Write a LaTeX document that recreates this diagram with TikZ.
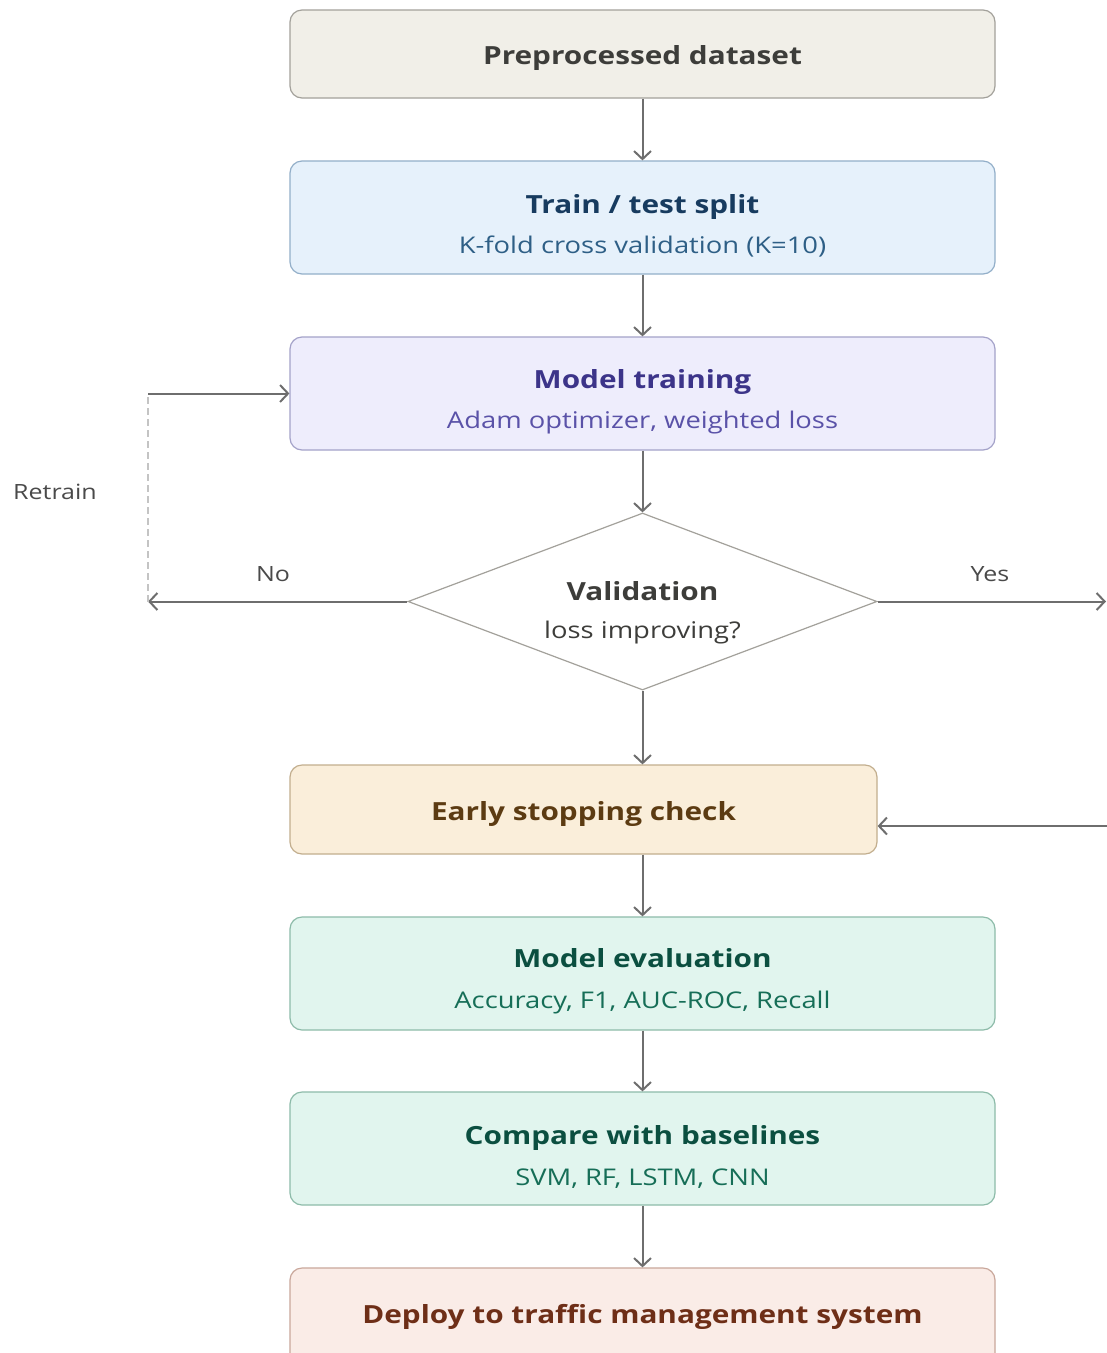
\documentclass[tikz,border=0pt]{standalone}
\usepackage{fontspec}
\setmainfont[FakeStretch=1.19]{Open Sans}
\usetikzlibrary{arrows.meta,shapes.geometric}

% palette
\definecolor{grayfill}{HTML}{F1EFE8}
\definecolor{graydraw}{HTML}{A3A19B}
\definecolor{graytext}{HTML}{3D3D3A}
\definecolor{bluefill}{HTML}{E6F1FB}
\definecolor{bluedraw}{HTML}{93AFC9}
\definecolor{bluetitle}{HTML}{173B5F}
\definecolor{bluesub}{HTML}{2E5F86}
\definecolor{purpfill}{HTML}{EEEDFC}
\definecolor{purpdraw}{HTML}{A4A2C9}
\definecolor{purptitle}{HTML}{3C3489}
\definecolor{purpsub}{HTML}{5A52A8}
\definecolor{ambfill}{HTML}{FAEEDA}
\definecolor{ambdraw}{HTML}{C2AE8E}
\definecolor{ambtext}{HTML}{5C3B12}
\definecolor{tealfill}{HTML}{E1F5EE}
\definecolor{tealdraw}{HTML}{8DBBA9}
\definecolor{tealtitle}{HTML}{0B4F40}
\definecolor{tealsub}{HTML}{166E57}
\definecolor{corfill}{HTML}{FAECE7}
\definecolor{cordraw}{HTML}{C9A79B}
\definecolor{cortext}{HTML}{6E2E17}
\definecolor{linegray}{HTML}{6E6E6E}
\definecolor{dashgray}{HTML}{C4C4C4}
\definecolor{labelgray}{HTML}{4A4A4A}

\tikzset{
  stagebox/.style={rounded corners=12pt, line width=1.2pt, minimum width=705pt,
    minimum height=113pt, inner sep=0pt},
  titletext/.style={anchor=base, inner sep=0pt, font=\fontsize{25}{30}\selectfont\bfseries},
  subtext/.style={anchor=base, inner sep=0pt, font=\fontsize{23}{28}\selectfont},
  sidelabel/.style={inner sep=0pt, text=labelgray, font=\fontsize{21}{26}\selectfont},
  flow/.style={draw=linegray, line width=2pt,
    -{Straight Barb[length=8pt,width=17pt]}},
}

\begin{document}
\begin{tikzpicture}[x=1pt,y=-1pt]
\useasboundingbox[fill=white] (0,0) rectangle (1107,1353);

% stages
\node[stagebox, draw=graydraw, fill=grayfill, minimum height=88pt] (prep) at (642.5,54) {};
\node[titletext, text=graytext] (prepT) at (642.5,64) {Preprocessed dataset};

\node[stagebox, draw=bluedraw, fill=bluefill] (split) at (642.5,217.5) {};
\node[titletext, text=bluetitle] (splitT) at (642.5,213) {Train / test split};
\node[subtext, text=bluesub] (splitS) at (642.5,253) {K-fold cross validation (K=10)};

\node[stagebox, draw=purpdraw, fill=purpfill] (train) at (642.5,393.5) {};
\node[titletext, text=purptitle] (trainT) at (642.5,388) {Model training};
\node[subtext, text=purpsub] (trainS) at (642.5,428) {Adam optimizer, weighted loss};

\node[diamond, draw=graydraw, line width=1.2pt, fill=white, aspect=2.65,
  minimum width=469pt, minimum height=177pt, inner sep=0pt] (val) at (642.5,601.5) {};
\node[titletext, text=graytext] (valT) at (642.5,600) {Validation};
\node[subtext, text=graytext] (valS) at (642.5,638) {loss improving?};

\node[stagebox, draw=ambdraw, fill=ambfill, minimum width=587pt, minimum height=89pt] (early) at (583.5,809.5) {};
\node[titletext, text=ambtext] (earlyT) at (583.5,820) {Early stopping check};

\node[stagebox, draw=tealdraw, fill=tealfill] (evalb) at (642.5,973.5) {};
\node[titletext, text=tealtitle] (evalT) at (642.5,967) {Model evaluation};
\node[subtext, text=tealsub] (evalS) at (642.5,1008) {Accuracy, F1, AUC-ROC, Recall};

\node[stagebox, draw=tealdraw, fill=tealfill] (comp) at (642.5,1148.5) {};
\node[titletext, text=tealtitle] (compT) at (642.5,1144) {Compare with baselines};
\node[subtext, text=tealsub] (compS) at (642.5,1185) {SVM, RF, LSTM, CNN};

\node[stagebox, draw=cordraw, fill=corfill, minimum height=100pt] (deploy) at (642.5,1318) {};
\node[titletext, text=cortext] (deployT) at (642.5,1323) {Deploy to traffic management system};

% main flow
\draw[flow] (prep) -- (split);
\draw[flow] (split) -- (train);
\draw[flow] (train) -- (val);
\draw[flow] (val.south) -- (val.south |- early.north);
\draw[flow] (evalb.north |- early.south) -- (evalb.north);
\draw[flow] (evalb) -- (comp);
\draw[flow] (comp) -- (deploy);

% retrain loop
\coordinate (nobend) at (148,601.5);
\coordinate (uptop) at (148,393.5);
\draw[flow] (val.west) -- (nobend);
\draw[dashgray, line width=1.8pt, dash pattern=on 7pt off 4pt] (nobend) -- (uptop);
\draw[flow] (uptop) -- (train.west);
\node[sidelabel] (noL) at (273,574) {No};
\node[sidelabel] (retrainL) at (55,492) {Retrain};

% continue branch
\coordinate (yesend) at (1106,601.5);
\coordinate (backin) at (1108,826);
\draw[flow] (val.east) -- (yesend);
\draw[flow] (backin) -- (backin -| early.east);
\node[sidelabel] (yesL) at (990,574) {Yes};
\end{tikzpicture}
\end{document}
